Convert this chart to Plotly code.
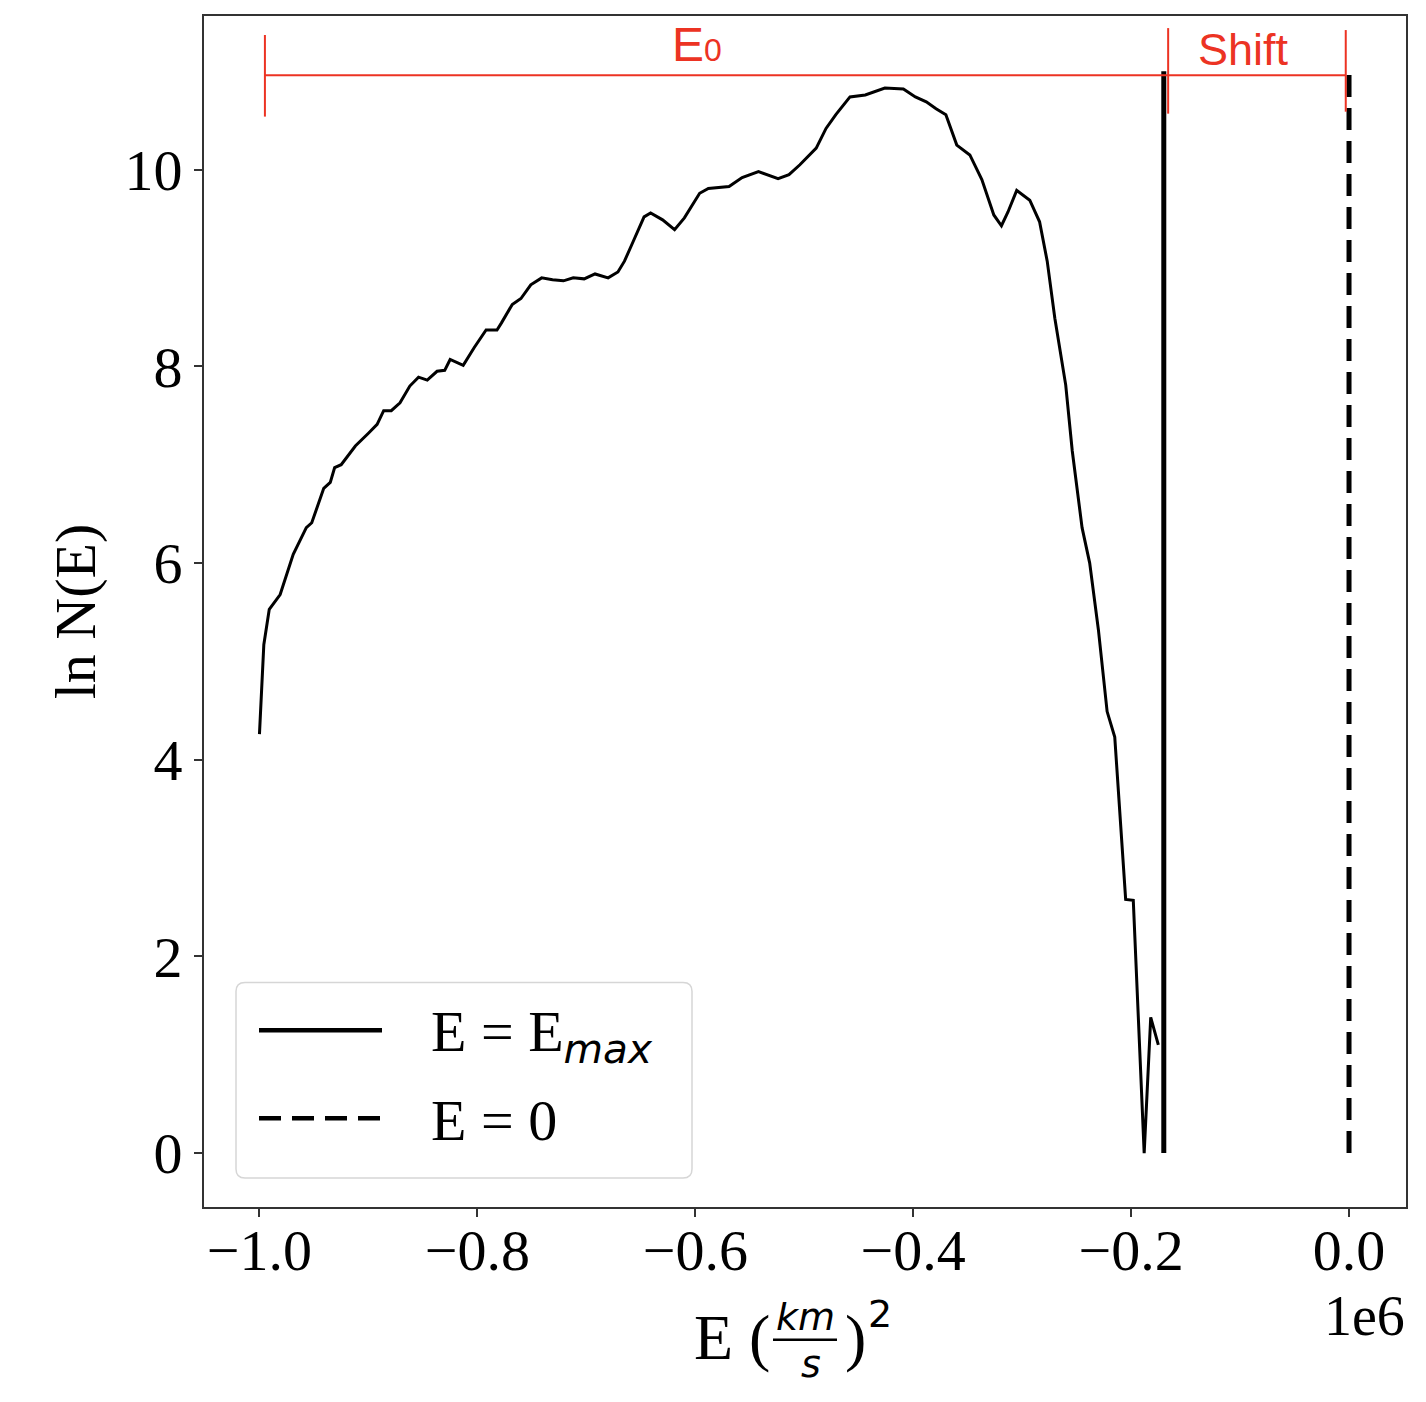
import plotly.graph_objects as go

# energy bins, units of 1e6 (km/s)^2, and ln N(E)
energy = [-1.000, -0.998, -0.996, -0.991, -0.981, -0.969, -0.957, -0.952, -0.941, -0.935,
          -0.931, -0.925, -0.912, -0.900, -0.892, -0.886, -0.879, -0.871, -0.862, -0.854,
          -0.846, -0.837, -0.830, -0.825, -0.813, -0.803, -0.792, -0.782, -0.778, -0.768,
          -0.760, -0.751, -0.741, -0.731, -0.721, -0.712, -0.702, -0.692, -0.680, -0.671,
          -0.665, -0.657, -0.647, -0.641, -0.630, -0.619, -0.610, -0.596, -0.588, -0.569,
          -0.557, -0.542, -0.524, -0.514, -0.504, -0.489, -0.480, -0.471, -0.458, -0.444,
          -0.426, -0.409, -0.398, -0.388, -0.379, -0.370, -0.360, -0.348, -0.337, -0.326,
          -0.319, -0.313, -0.305, -0.293, -0.284, -0.277, -0.270, -0.260, -0.254, -0.245,
          -0.238, -0.230, -0.222, -0.215, -0.205, -0.198, -0.188, -0.182, -0.175]
ln_n = [4.26, 4.80, 5.17, 5.53, 5.68, 6.09, 6.36, 6.41, 6.76, 6.82,
        6.97, 7.00, 7.19, 7.32, 7.41, 7.55, 7.55, 7.63, 7.80, 7.89,
        7.86, 7.95, 7.96, 8.07, 8.01, 8.19, 8.37, 8.37, 8.44, 8.63,
        8.69, 8.83, 8.90, 8.88, 8.87, 8.90, 8.89, 8.94, 8.90, 8.96,
        9.07, 9.27, 9.52, 9.56, 9.49, 9.39, 9.51, 9.76, 9.81, 9.83,
        9.92, 9.98, 9.91, 9.95, 10.05, 10.22, 10.42, 10.56, 10.74, 10.76,
        10.83, 10.82, 10.74, 10.69, 10.62, 10.56, 10.25, 10.15, 9.90, 9.54,
        9.43, 9.57, 9.79, 9.69, 9.47, 9.07, 8.49, 7.81, 7.14, 6.36,
        6.00, 5.32, 4.49, 4.23, 2.58, 2.57, 0.00, 1.38, 1.10]

e_max = -0.170
e_zero = 0.0
line_y = [0, 11.0]

x_ticks = [-1.0, -0.8, -0.6, -0.4, -0.2, 0.0]
x_ticktext = ['\u22121.0', '\u22120.8', '\u22120.6', '\u22120.4', '\u22120.2', '0.0']
y_ticks = [0, 2, 4, 6, 8, 10]

SERIF = 'Liberation Serif'
SANS = 'DejaVu Sans'
RED = '#ec3323'
DASH = '22px,11px'

# page has an 8px body margin, so the figure is a bit smaller than the window
PAD = 8
W, H = 1426 - 2 * PAD, 1402 - 2 * PAD
# plot area in page pixels
PX0, PX1, PY0, PY1 = 204, 1406, 14, 1207
L, T = PX0 - PAD, PY0 - PAD
R, B = W - (PX1 - PAD), H - (PY1 - PAD)

fig = go.Figure()
fig.add_trace(go.Scatter(x=energy, y=ln_n, mode='lines',
                         line=dict(color='black', width=3), showlegend=False))
fig.add_trace(go.Scatter(x=[e_max, e_max], y=line_y, mode='lines',
                         line=dict(color='black', width=5), showlegend=False))
fig.add_trace(go.Scatter(x=[e_zero, e_zero], y=line_y, mode='lines',
                         line=dict(color='black', width=5, dash=DASH), showlegend=False))


def px2paper(px, py):
    return (px - PX0) / (PX1 - PX0), (PY1 - py) / (PY1 - PY0)


def rounded_rect(x0, y0, x1, y1, r=9):
    # page pixels in, svg path in paper coords out
    rx = r / (PX1 - PX0)
    ry = r / (PY1 - PY0)
    a0, b1 = px2paper(x0, y0)
    a1, b0 = px2paper(x1, y1)
    pts = [f'M{a0 + rx},{b1}', f'L{a1 - rx},{b1}', f'Q{a1},{b1} {a1},{b1 - ry}',
           f'L{a1},{b0 + ry}', f'Q{a1},{b0} {a1 - rx},{b0}', f'L{a0 + rx},{b0}',
           f'Q{a0},{b0} {a0},{b0 + ry}', f'L{a0},{b1 - ry}', f'Q{a0},{b1} {a0 + rx},{b1}']
    return ' '.join(pts) + ' Z'


def text_at(px, py, text, size, family=SERIF, xanchor='center', yanchor='middle',
            color='black', style=''):
    x, y = px2paper(px, py)
    if style:
        text = f'<span style="{style}">{text}</span>'
    return dict(xref='paper', yref='paper', x=x, y=y, xanchor=xanchor, yanchor=yanchor,
                showarrow=False, text=text, borderpad=0,
                font=dict(family=family, size=size, color=color))


def paper_line(px0, py0, px1, py1, width, color='black', dash=None):
    x0, y0 = px2paper(px0, py0)
    x1, y1 = px2paper(px1, py1)
    return dict(type='line', xref='paper', yref='paper', x0=x0, x1=x1, y0=y0, y1=y1,
                line=dict(color=color, width=width, dash=dash))


shapes = [
    # legend box, drawn by hand so the line samples are as long as the original
    dict(type='path', xref='paper', yref='paper', path=rounded_rect(236, 982, 692, 1178),
         line=dict(color='#d6d6d6', width=1.5), fillcolor='rgba(255,255,255,0.85)'),
    paper_line(259, 1030, 382, 1030, 4.5),
    paper_line(259, 1118, 382, 1118, 4.5, dash=DASH),
    # red E0 / Shift brackets
    dict(type='line', x0=-0.995, x1=-0.003, y0=10.96, y1=10.96, line=dict(color=RED, width=2)),
    dict(type='line', x0=-0.995, x1=-0.995, y0=10.54, y1=11.37, line=dict(color=RED, width=2)),
    dict(type='line', x0=-0.166, x1=-0.166, y0=10.57, y1=11.44, line=dict(color=RED, width=2)),
    dict(type='line', x0=-0.003, x1=-0.003, y0=10.59, y1=11.42, line=dict(color=RED, width=2)),
    # fraction bar of the x title
    paper_line(773, 1340, 837, 1340, 2.5),
]

annotations = [
    text_at(430, 1036, f'E = E<span style="font-family:{SANS};font-style:italic;font-size:58px">'
                       f'<sub>max</sub></span>', 58, xanchor='left'),
    text_at(430, 1120, 'E = 0', 58, xanchor='left'),
    dict(x=-0.598, y=11.27, showarrow=False, xanchor='center', yanchor='middle',
         text='E<span style="font-size:32px">0</span>',
         font=dict(family='Liberation Sans', size=48, color=RED)),
    dict(x=-0.0973, y=11.22, showarrow=False, xanchor='center', yanchor='middle',
         text='Shift', font=dict(family='Liberation Sans', size=45, color=RED)),
    text_at(1406, 1316, '1e6', 56, xanchor='right'),
    # x title: E (km/s)^2 with a stacked fraction
    text_at(771, 1338, 'E (', 64, xanchor='right'),
    text_at(805, 1340, 'km', 38, family=SANS, yanchor='bottom', style='font-style:italic'),
    text_at(811, 1341, 's', 38, family=SANS, yanchor='top', style='font-style:italic'),
    text_at(844, 1338, ')', 64, xanchor='left'),
    text_at(867, 1314, '2', 38, family=SANS, xanchor='left'),
]

fig.update_layout(
    width=W, height=H,
    margin=dict(l=L, r=R, t=T, b=B),
    paper_bgcolor='white', plot_bgcolor='white',
    font=dict(family=SERIF, size=58, color='black'),
    shapes=shapes,
    annotations=annotations,
    xaxis=dict(range=[-1.0509, 0.0523], tickvals=x_ticks, ticktext=x_ticktext,
               showgrid=False, zeroline=False, showline=True, mirror=True,
               linecolor='#333333', linewidth=2, ticks='outside', ticklen=8, tickwidth=2,
               tickcolor='#333333', tickfont=dict(family=SERIF, size=58),
               ticklabelstandoff=-17),
    yaxis=dict(range=[-0.548, 11.563], tickvals=y_ticks,
               showgrid=False, zeroline=False, showline=True, mirror=True,
               linecolor='#333333', linewidth=2, ticks='outside', ticklen=8, tickwidth=2,
               tickcolor='#333333', tickfont=dict(family=SERIF, size=58),
               title=dict(text='ln N(E)', font=dict(family=SERIF, size=58), standoff=10)),
)

fig.write_html("out.html")
